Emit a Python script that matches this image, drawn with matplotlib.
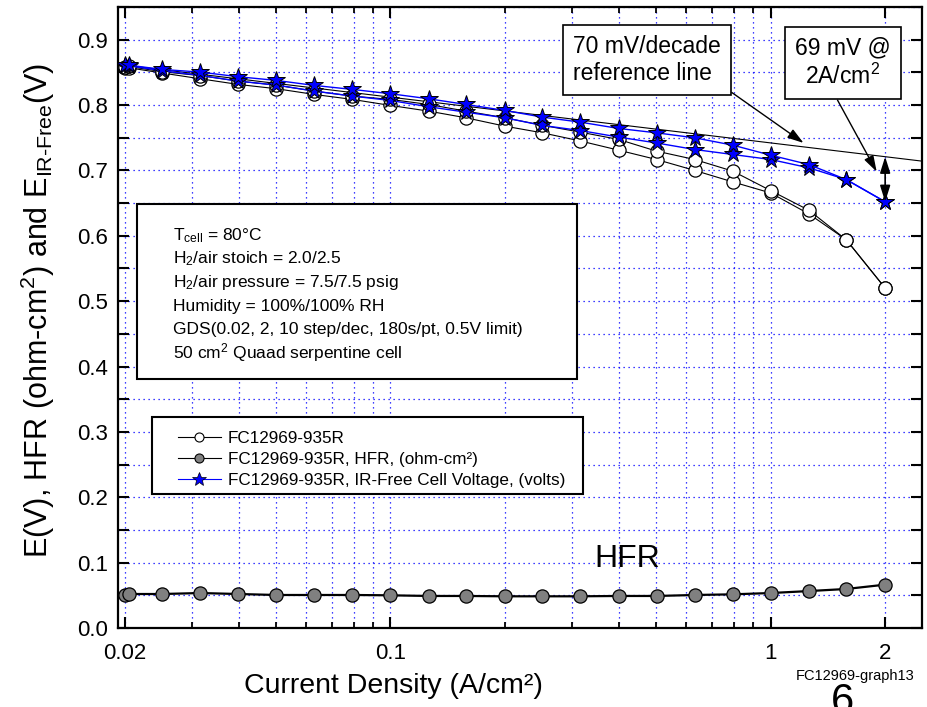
import numpy as np
import matplotlib
matplotlib.use("Agg")
import matplotlib.pyplot as plt
from matplotlib.patches import Rectangle
from matplotlib.lines import Line2D
from matplotlib.ticker import FixedLocator, FuncFormatter, NullFormatter

plt.rcParams['font.family'] = ['Liberation Sans', 'DejaVu Sans']
plt.rcParams['mathtext.fontset'] = 'custom'
plt.rcParams['mathtext.rm'] = 'Liberation Sans'
plt.rcParams['mathtext.it'] = 'Liberation Sans:italic'
plt.rcParams['mathtext.bf'] = 'Liberation Sans:bold'

# ---- data -------------------------------------------------------------
current = [0.02, 0.0205, 0.0251, 0.0316, 0.0398, 0.0501, 0.0631, 0.0794,
           0.1, 0.126, 0.158, 0.2, 0.251, 0.316, 0.398, 0.501, 0.631,
           0.794, 1.0, 1.26, 1.58, 2.0]

# cell voltage, two polarization sweeps (V)
e_cell_run1 = [0.858, 0.859, 0.851, 0.845, 0.8366, 0.8305, 0.8213, 0.8137,
               0.8086, 0.8009, 0.7907, 0.7805, 0.769, 0.7585, 0.7474, 0.7295,
               0.7167, 0.699, 0.6691, 0.6391, 0.594, 0.520]
e_cell_run2 = [0.856, 0.857, 0.849, 0.8402, 0.8315, 0.825, 0.8162, 0.8086,
               0.7994, 0.7907, 0.7805, 0.7677, 0.7575, 0.745, 0.731, 0.7167,
               0.700, 0.6825, 0.6655, 0.6335, 0.594, 0.520]

# IR-free cell voltage, same two sweeps (V)
e_irfree_run1 = [0.862, 0.861, 0.8545, 0.8504, 0.8433, 0.8377, 0.830, 0.8239,
                 0.8173, 0.8096, 0.8009, 0.7917, 0.7815, 0.7738, 0.7642,
                 0.7575, 0.7499, 0.7387, 0.7233, 0.709, 0.686, 0.652]
e_irfree_run2 = [0.859, 0.860, 0.8525, 0.8453, 0.8366, 0.8305, 0.8213, 0.8137,
                 0.807, 0.7974, 0.7891, 0.7805, 0.7688, 0.761, 0.751, 0.742,
                 0.732, 0.7244, 0.7167, 0.704, 0.686, 0.652]

# high-frequency resistance (ohm-cm2)
hfr = [0.0505, 0.052, 0.052, 0.0535, 0.052, 0.0505, 0.0505, 0.0505, 0.050,
       0.049, 0.049, 0.0485, 0.0485, 0.0485, 0.049, 0.049, 0.0505, 0.0515,
       0.0535, 0.0565, 0.0597, 0.0663]

# 70 mV/decade Tafel reference line, anchored at 2 A/cm2
ref_slope = 0.070
ref_anchor_i = 2.0
ref_anchor_e = 0.721

x_ticks = [0.02, 0.1, 1, 2]
x_tick_labels = ['0.02', '0.1', '1', '2']
x_minor = [0.03, 0.04, 0.05, 0.06, 0.07, 0.08, 0.09,
           0.2, 0.3, 0.4, 0.5, 0.6, 0.7, 0.8, 0.9]

legend_labels = ['FC12969-935R',
                 'FC12969-935R, HFR, (ohm-cm\u00b2)',
                 'FC12969-935R, IR-Free Cell Voltage, (volts)']

conditions = ['T$_{\\mathrm{cell}}$ = 80\u00b0C',
              'H$_{2}$/air stoich = 2.0/2.5',
              'H$_{2}$/air pressure = 7.5/7.5 psig',
              'Humidity = 100%/100% RH',
              'GDS(0.02, 2, 10 step/dec, 180s/pt, 0.5V limit)',
              '50 cm$^{2}$ Quaad serpentine cell']


def ref_line(i):
    return ref_anchor_e - ref_slope * np.log10(np.asarray(i) / ref_anchor_i)


# ---- figure -----------------------------------------------------------
W, H = 928, 707
fig = plt.figure(figsize=(W / 100, H / 100), dpi=100)


def fx(px):
    return px / W


def fy(py):
    return 1 - py / H


ax = fig.add_axes([fx(118), fy(628), (922 - 118) / W, (628 - 7) / H])
ax.set_xscale('log')
ax.set_xlim(0.0192, 2.5)
ax.set_ylim(0.0, 0.95)

BLUE = '#0000ff'

# reference line across the full range
xl = ax.get_xlim()
i_ref = np.logspace(np.log10(xl[0]), np.log10(xl[1]), 60)
ax.plot(i_ref, ref_line(i_ref), color='black', lw=0.8, zorder=3)

circ = dict(marker='o', ms=9.5, mfc='white', mec='black', mew=0.9,
            color='black', lw=0.8, zorder=4)
ax.plot(current, e_cell_run2, **circ)
ax.plot(current, e_cell_run1, **circ)

star = dict(marker='*', ms=13, mfc=BLUE, mec='black', mew=0.7,
            color=BLUE, lw=1.0, zorder=5)
ax.plot(current, e_irfree_run2, **star)
ax.plot(current, e_irfree_run1, **star)

ax.plot(current, hfr, marker='o', ms=9.5, mfc='#808080', mec='black',
        mew=0.9, color='black', lw=1.6, zorder=5)

# axes styling
for s in ax.spines.values():
    s.set_linewidth(1.6)
ax.xaxis.set_major_locator(FixedLocator(x_ticks))
ax.xaxis.set_major_formatter(FuncFormatter(
    lambda v, p: x_tick_labels[x_ticks.index(v)] if v in x_ticks else ''))
ax.xaxis.set_minor_locator(FixedLocator(x_minor))
ax.xaxis.set_minor_formatter(NullFormatter())
y_ticks = np.round(np.arange(0, 0.951, 0.05), 2)
ax.yaxis.set_major_locator(FixedLocator(y_ticks))
ax.yaxis.set_major_formatter(FuncFormatter(
    lambda v, p: f'{v:.1f}' if abs(round(v * 10) - v * 10) < 1e-6 else ''))
ax.tick_params(which='major', direction='in', top=True, right=True,
               length=8, width=1.5, labelsize=16)
ax.tick_params(axis='x', which='major', pad=11)
ax.tick_params(axis='y', which='major', pad=7)
ax.tick_params(which='minor', direction='in', top=True, right=True,
               length=4, width=1.3)
ax.grid(True, which='both', color=BLUE, linestyle=(0, (1, 3)), lw=0.9)
ax.set_axisbelow(True)

ax.set_xlabel('Current Density (A/cm\u00b2)', fontsize=20.5)
ax.xaxis.set_label_coords(0.342, -0.072)
ylab = ax.set_ylabel(
    'E(V), HFR (ohm-cm$^{2}$) and E$_{\\mathrm{IR\u2010Free}}$(V)',
    fontsize=22)
ylab.set_verticalalignment('center')
ylab.set_horizontalalignment('center')
ax.yaxis.set_label_coords(-0.1, 0.512)

# annotations
box = dict(boxstyle='square,pad=0.45', fc='white', ec='black', lw=1.2)
arrow = dict(arrowstyle='-|>,head_length=0.7,head_width=0.22', color='black',
             lw=1.0, shrinkA=0, shrinkB=0, mutation_scale=14)
ax.annotate('70 mV/decade\nreference line', xy=(1.22, ref_line(1.22) + 0.006),
            xycoords='data', xytext=(fx(647), fy(60)),
            textcoords='figure fraction', ha='center', va='center',
            multialignment='left', fontsize=16.5, bbox=box,
            arrowprops=dict(arrow, relpos=(1.0, 0.0)), zorder=6)
ax.annotate('69 mV @\n2A/cm$^{2}$', xy=(1.9, 0.698), xycoords='data',
            xytext=(fx(843), fy(63)), textcoords='figure fraction',
            ha='center', va='center', multialignment='center',
            fontsize=16.5, bbox=box,
            arrowprops=dict(arrow, relpos=(0.38, 0.0)), zorder=6)
ax.annotate('', xy=(current[-1], e_irfree_run1[-1]),
            xytext=(current[-1], ref_line(current[-1])),
            arrowprops=dict(arrowstyle='<|-|>,head_length=0.7,head_width=0.22',
                            color='black', lw=1.2, shrinkA=0, shrinkB=0,
                            mutation_scale=14), zorder=6)

ax.text(0.42, 0.106, 'HFR', fontsize=23, ha='center', va='center', zorder=6)

# test-condition box
fig.add_artist(Rectangle((fx(137), fy(379)), (577 - 137) / W, (379 - 204) / H,
                         transform=fig.transFigure, fc='white', ec='black',
                         lw=1.5, zorder=4))
for k, line in enumerate(conditions):
    fig.text(fx(173), fy(240 + 23.6 * k), line, fontsize=12.5,
             ha='left', va='baseline', zorder=5)

# legend
handles = [
    Line2D([], [], color='black', lw=0.8, marker='o', ms=6.5, mfc='white',
           mec='black', mew=0.8),
    Line2D([], [], color='black', lw=0.8, marker='o', ms=6.5, mfc='#808080',
           mec='black', mew=0.8),
    Line2D([], [], color=BLUE, lw=0.8, marker='*', ms=10, mfc=BLUE,
           mec='black', mew=0.5),
]
fig.add_artist(Rectangle((fx(152), fy(494)), (583 - 152) / W, (494 - 417) / H,
                         transform=fig.transFigure, fc='white', ec='black',
                         lw=1.5, zorder=4))
fig.legend(handles, legend_labels, loc='upper left',
           bbox_to_anchor=(fx(178), fy(431)), frameon=False, fontsize=12.3,
           handlelength=2.5, handletextpad=0.4, labelspacing=0.34,
           borderpad=0, borderaxespad=0)

fig.text(fx(855), fy(676), 'FC12969-graph13', fontsize=10.5,
         ha='center', va='center')
fig.text(fx(843), fy(713), '6', fontsize=30, ha='center', va='baseline')

fig.savefig('out.png', dpi=100)
